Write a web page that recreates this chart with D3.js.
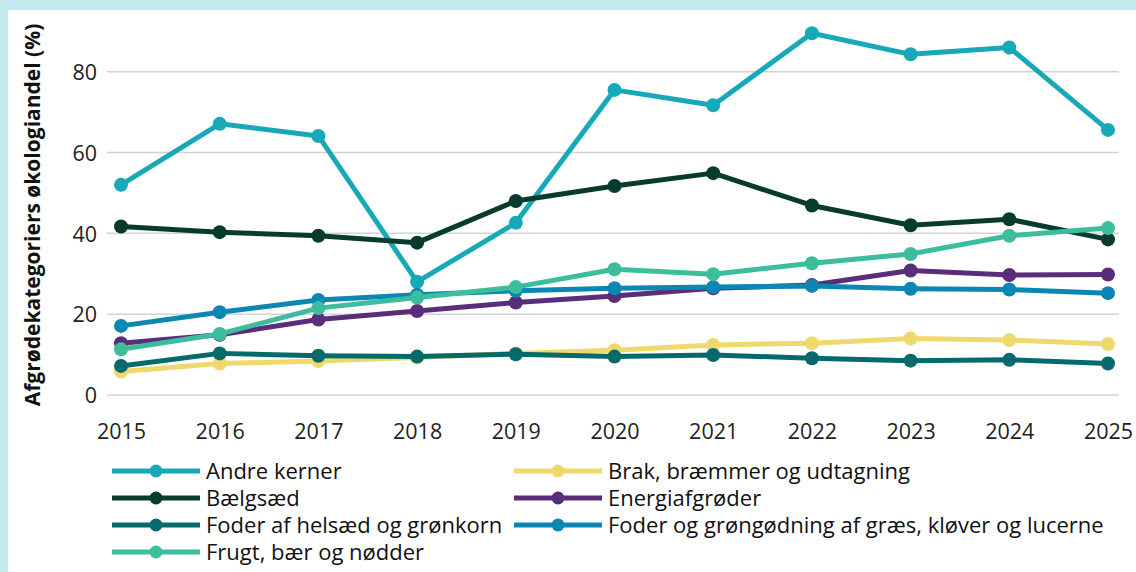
<!DOCTYPE html>
<html>
<head>
<meta charset="utf-8">
<script src="https://cdn.jsdelivr.net/npm/d3@7"></script>
<style>
  html, body { margin: 0; padding: 0; background: #ffffff; }
  svg { display: block; }
  text { font-family: "Open Sans", "Noto Sans", sans-serif; }
</style>
</head>
<body>
<svg id="chart" width="1136" height="572"></svg>
<script>
const years = [2015, 2016, 2017, 2018, 2019, 2020, 2021, 2022, 2023, 2024, 2025];
const seriesNames = [
  "Andre kerner",
  "Brak, bræmmer og udtagning",
  "Bælgsæd",
  "Energiafgrøder",
  "Foder af helsæd og grønkorn",
  "Foder og grøngødning af græs, kløver og lucerne",
  "Frugt, bær og nødder"
];
const andreKerner   = [52.0, 67.1, 64.1, 28.0, 42.6, 75.5, 71.7, 89.5, 84.3, 86.0, 65.6];
const brak          = [5.8, 7.8, 8.4, 9.3, 10.3, 11.1, 12.4, 12.8, 14.0, 13.6, 12.6];
const baelgsaed     = [41.7, 40.3, 39.4, 37.7, 48.0, 51.7, 54.9, 46.9, 42.0, 43.5, 38.5];
const energi        = [12.8, 14.9, 18.7, 20.8, 22.9, 24.5, 26.4, 27.2, 30.8, 29.7, 29.8];
const foderHelsaed  = [7.2, 10.3, 9.7, 9.5, 10.1, 9.5, 9.9, 9.1, 8.5, 8.7, 7.8];
const foderGraes    = [17.1, 20.5, 23.5, 24.8, 25.8, 26.4, 26.7, 27.0, 26.3, 26.1, 25.2];
const frugt         = [11.3, 15.1, 21.5, 24.1, 26.7, 31.1, 29.9, 32.6, 34.9, 39.4, 41.3];
const yTicks = [0, 20, 40, 60, 80];
const yTitle = "Afgrødekategoriers økologiandel (%)";

const seriesValues = [andreKerner, brak, baelgsaed, energi, foderHelsaed, foderGraes, frugt];
const colors = ["#17a9b8", "#efd96c", "#073b2e", "#5a2d7b", "#056a6c", "#0b87b3", "#3cbd9c"];

const svg = d3.select("#chart");

// frame border (top and left)
svg.append("rect").attr("x", 0).attr("y", 0).attr("width", 1136).attr("height", 10).attr("fill", "#c2e9ee");
svg.append("rect").attr("x", 0).attr("y", 0).attr("width", 8).attr("height", 572).attr("fill", "#c2e9ee");

const x = d3.scalePoint().domain(years).range([121, 1108]);
const y = d3.scaleLinear().domain([0, 80]).range([395, 71.7]);

// gridlines
svg.append("g").selectAll("line").data(yTicks).join("line")
  .attr("x1", 107).attr("x2", 1119)
  .attr("y1", d => y(d)).attr("y2", d => y(d))
  .attr("stroke", "#d3d3d3").attr("stroke-width", 1.5);

// y axis labels
const yAxis = d3.axisLeft(y).tickValues(yTicks).tickSize(0).tickPadding(0);
const gy = svg.append("g").attr("transform", "translate(97,0)").call(yAxis);
gy.select(".domain").remove();
gy.selectAll("text").attr("font-size", 21.5).attr("fill", "#222").attr("dy", "0.36em")
  .style("font-family", "'Open Sans', sans-serif");

// x axis labels
const xAxis = d3.axisBottom(x).tickSize(0).tickPadding(0).tickFormat(d3.format("d"));
const gx = svg.append("g").attr("transform", "translate(0,424)").call(xAxis);
gx.select(".domain").remove();
gx.selectAll("text").attr("font-size", 21.5).attr("fill", "#222")
  .style("font-family", "'Open Sans', sans-serif");

// y title
svg.append("text")
  .attr("transform", `translate(40,${(23 + 407) / 2}) rotate(-90)`)
  .attr("text-anchor", "middle")
  .attr("font-size", 21).attr("font-weight", 700).attr("fill", "#111")
  .text(yTitle);

// lines
const line = d3.line().x((d, i) => x(years[i])).y(d => y(d));
seriesValues.forEach((vals, k) => {
  const g = svg.append("g");
  g.append("path").datum(vals).attr("d", line)
    .attr("fill", "none").attr("stroke", colors[k]).attr("stroke-width", 5)
    .attr("stroke-linejoin", "round");
  g.selectAll("circle").data(vals).join("circle")
    .attr("cx", (d, i) => x(years[i])).attr("cy", d => y(d)).attr("r", 7)
    .attr("fill", colors[k]);
});

// legend
const colX = [112, 514];
const rowY = [471, 498, 525, 552];
seriesNames.forEach((name, k) => {
  const cx = colX[k % 2], cy = rowY[Math.floor(k / 2)];
  const g = svg.append("g").attr("transform", `translate(${cx},${cy})`);
  g.append("line").attr("x1", 0).attr("x2", 88).attr("y1", 0).attr("y2", 0)
    .attr("stroke", colors[k]).attr("stroke-width", 5);
  g.append("circle").attr("cx", 44).attr("cy", 0).attr("r", 6.5).attr("fill", colors[k]);
  g.append("text").attr("x", 94).attr("y", 0).attr("dy", "0.36em")
    .attr("font-size", 22).attr("fill", "#111").text(name);
});
</script>
</body>
</html>
